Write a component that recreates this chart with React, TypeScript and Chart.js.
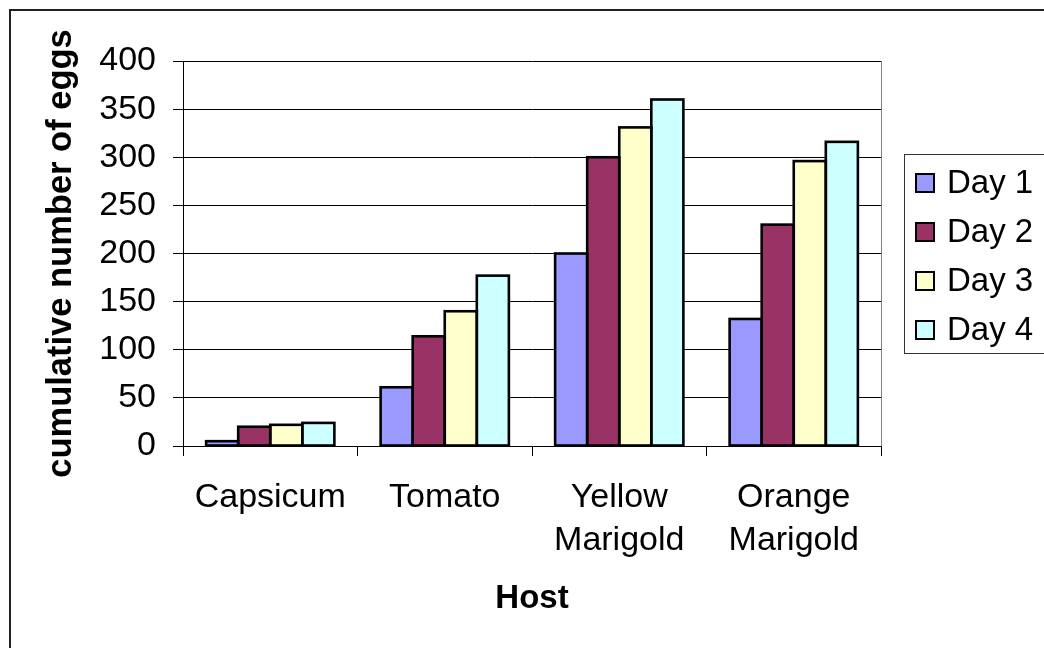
import React, { useEffect, useRef } from "react";
import { Chart, registerables } from "chart.js";

Chart.register(...registerables);

// Host plants on the category axis (two-line labels for the marigolds)
const hosts: (string | string[])[] = [
  "Capsicum",
  "Tomato",
  ["Yellow", "Marigold"],
  ["Orange", "Marigold"],
];

// Cumulative egg counts per host, one array per day
const seriesNames = ["Day 1", "Day 2", "Day 3", "Day 4"];
const day1 = [5, 61, 200, 132];
const day2 = [20, 114, 300, 230];
const day3 = [22, 140, 331, 296];
const day4 = [24, 177, 360, 316];
const seriesColors = ["#9999FF", "#993366", "#FFFFCC", "#CCFFFF"];

const yMin = 0;
const yMax = 400;
const yStep = 50;

const FONT = "'Liberation Sans', Arial, sans-serif";
const TICK_FS = 34;
const LEGEND_FS = 33;

// White page, outer chart frame and the grey plot-area edge on the right
const framePlugin = {
  id: "frame",
  beforeDraw(chart: Chart) {
    const { ctx, width, height } = chart;
    ctx.save();
    ctx.fillStyle = "#ffffff";
    ctx.fillRect(0, 0, width, height);
    ctx.restore();
  },
  afterDraw(chart: Chart) {
    const { ctx, chartArea } = chart;
    ctx.save();
    ctx.strokeStyle = "#808080";
    ctx.lineWidth = 1;
    ctx.beginPath();
    ctx.moveTo(Math.round(chartArea.right) + 0.5, chartArea.top);
    ctx.lineTo(Math.round(chartArea.right) + 0.5, chartArea.bottom);
    ctx.stroke();
    ctx.strokeStyle = "#222222";
    ctx.lineWidth = 2;
    ctx.strokeRect(10, 10, 1200, 800);
    ctx.restore();
  },
};

// Heavy black outline centred on each bar's edges
const barOutlinePlugin = {
  id: "barOutline",
  afterDatasetsDraw(chart: Chart) {
    const { ctx } = chart;
    ctx.save();
    ctx.strokeStyle = "#000000";
    ctx.lineWidth = 2.6;
    ctx.lineJoin = "miter";
    chart.data.datasets.forEach((_ds: any, di: number) => {
      const meta = chart.getDatasetMeta(di);
      meta.data.forEach((el: any) => {
        const { x, y, base, width } = el.getProps(["x", "y", "base", "width"], true);
        ctx.strokeRect(x - width / 2, y, width, base - y);
      });
    });
    ctx.restore();
  },
};

// Boxed legend on the right, built from the datasets
const boxLegendPlugin = {
  id: "boxLegend",
  afterDraw(chart: Chart) {
    const { ctx } = chart;
    const left = 904;
    const top = 154;
    const boxH = 199;
    const rowGap = 49;
    const firstRow = 183;
    ctx.save();
    ctx.fillStyle = "#ffffff";
    ctx.fillRect(left, top, 200, boxH);
    ctx.strokeStyle = "#333333";
    ctx.lineWidth = 1;
    ctx.strokeRect(left + 0.5, top + 0.5, 200, boxH);
    ctx.font = `${LEGEND_FS}px ${FONT}`;
    ctx.textBaseline = "middle";
    ctx.textAlign = "left";
    chart.data.datasets.forEach((ds: any, i: number) => {
      const cy = Math.round(firstRow + i * rowGap);
      ctx.fillStyle = ds.backgroundColor;
      ctx.fillRect(915, cy - 10, 20, 20);
      ctx.strokeStyle = "#000000";
      ctx.lineWidth = 2;
      ctx.strokeRect(916, cy - 9, 18, 18);
      ctx.fillStyle = "#000000";
      ctx.fillText(ds.label, 947, cy + 1);
    });
    ctx.restore();
  },
};

export default function App() {
  const canvasRef = useRef<HTMLCanvasElement | null>(null);

  useEffect(() => {
    if (!canvasRef.current) return;
    const seriesValues = [day1, day2, day3, day4];
    const chart = new Chart(canvasRef.current, {
      type: "bar",
      data: {
        labels: hosts,
        datasets: seriesNames.map((name, i) => ({
          label: name,
          data: seriesValues[i],
          backgroundColor: seriesColors[i],
          borderWidth: 0,
          categoryPercentage: 0.735,
          barPercentage: 1.0,
        })),
      },
      options: {
        responsive: false,
        devicePixelRatio: 1,
        animation: false,
        layout: { padding: { left: 0, top: 61, right: 163, bottom: 0 } },
        plugins: {
          legend: { display: false },
          tooltip: { enabled: false },
        },
        scales: {
          x: {
            grid: {
              display: true,
              drawOnChartArea: false,
              drawTicks: true,
              tickLength: 10,
              color: "#000000",
              offset: true,
            },
            border: { display: true, color: "#000000", width: 1 },
            ticks: {
              color: "#000000",
              font: { family: FONT, size: TICK_FS, lineHeight: 1.27 },
              padding: 20,
              maxRotation: 0,
              autoSkip: false,
            },
            title: {
              display: true,
              text: "Host",
              color: "#000000",
              font: { family: FONT, size: 33, weight: "bold", lineHeight: 1.2 },
              padding: { top: 0, bottom: 29 },
            },
            afterFit: (scale: any) => {
              scale.height = 202;
            },
          },
          y: {
            min: yMin,
            max: yMax,
            ticks: {
              stepSize: yStep,
              color: "#000000",
              font: { family: FONT, size: TICK_FS },
              padding: 17,
            },
            grid: {
              color: "#000000",
              tickLength: 10,
              drawTicks: true,
            },
            border: { display: true, color: "#000000", width: 1 },
            title: {
              display: true,
              text: "cumulative number of eggs",
              color: "#000000",
              font: { family: FONT, size: 34.5, weight: "bold", lineHeight: 1.2 },
              padding: { top: 41, bottom: 0 },
            },
            afterFit: (scale: any) => {
              scale.width = 183;
            },
          },
        },
      },
      plugins: [framePlugin, barOutlinePlugin, boxLegendPlugin],
    });
    return () => chart.destroy();
  }, []);

  return (
    <div style={{ position: "absolute", left: 0, top: 0, width: 1044, height: 648 }}>
      <canvas ref={canvasRef} width={1044} height={648} style={{ display: "block" }} />
    </div>
  );
}
